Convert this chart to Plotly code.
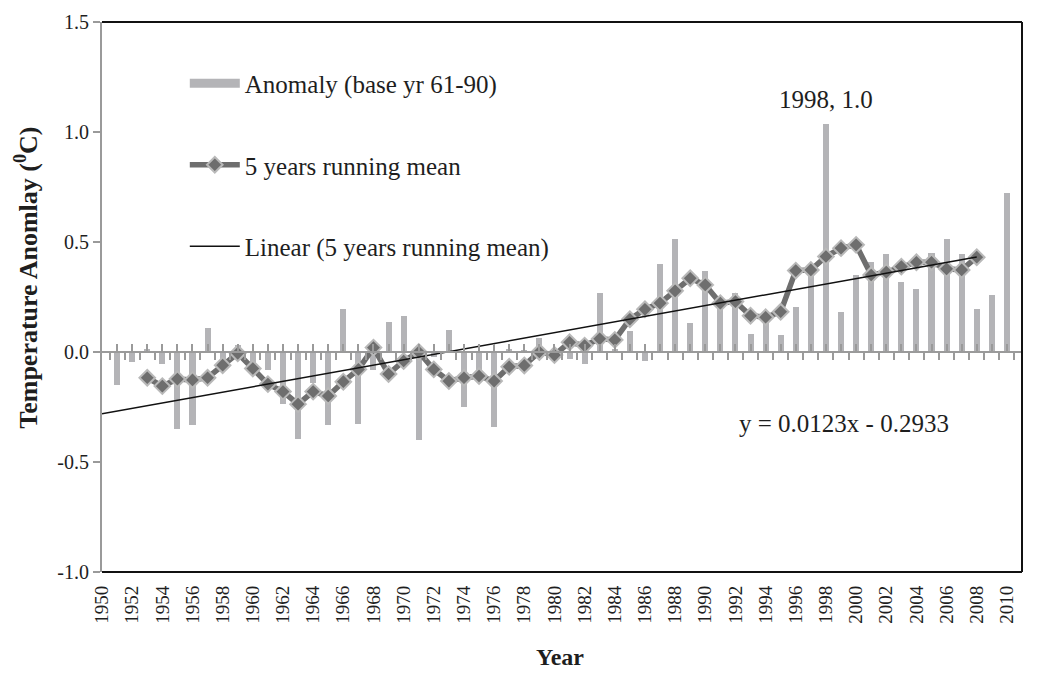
import plotly.graph_objects as go

# ---- data ----
years = list(range(1951, 2011))
anomaly = [
    -0.15, -0.047, 0.015, -0.056, -0.35, -0.33, 0.108, -0.04, 0.03, -0.05,   # 1951-1960
    -0.08, -0.237, -0.396, -0.14, -0.33, 0.194, -0.325, -0.08, 0.135, 0.164,  # 1961-1970
    -0.40, -0.024, 0.10, -0.25, -0.08, -0.34, 0.012, 0.005, 0.062, -0.04,     # 1971-1980
    -0.03, -0.055, 0.27, 0.015, 0.097, -0.04, 0.40, 0.513, 0.13, 0.37,        # 1981-1990
    0.25, 0.27, 0.08, 0.16, 0.077, 0.203, 0.38, 1.036, 0.182, 0.35,           # 1991-2000
    0.408, 0.446, 0.32, 0.285, 0.45, 0.514, 0.446, 0.197, 0.26, 0.725,        # 2001-2010
]

mean_years = list(range(1953, 2009))
running_mean = [
    -0.117, -0.155, -0.123, -0.127, -0.117, -0.06, -0.006, -0.075,            # 1953-1960
    -0.146, -0.18, -0.237, -0.18, -0.2, -0.135, -0.079, 0.02, -0.10, -0.041,  # 1961-1970
    0.0, -0.079, -0.132, -0.117, -0.109, -0.132, -0.067, -0.061, 0.0, -0.014, # 1971-1980
    0.044, 0.029, 0.06, 0.055, 0.149, 0.194, 0.222, 0.278, 0.335, 0.305,     # 1981-1990
    0.222, 0.229, 0.165, 0.158, 0.183, 0.37, 0.373, 0.434, 0.472, 0.487,     # 1991-2000
    0.35, 0.363, 0.388, 0.408, 0.408, 0.378, 0.373, 0.431,                   # 2001-2008
]

trend_years = [1950, 2008]
trend_values = [-0.281, 0.432]

xtick_years = list(range(1950, 2011, 2))
xtick_labels = [str(y) for y in xtick_years]
ytick_values = [-1.0, -0.5, 0.0, 0.5, 1.0, 1.5]
ytick_labels = ["-1.0", "-0.5", "0.0", "0.5", "1.0", "1.5"]

FONT = "Liberation Serif"
BAR_COLOR = "#b4b4b7"
MEAN_COLOR = "#6e6e6e"
AXIS_GRAY = "#9a9a9a"
TEXT = "#1e1e1e"

fig = go.Figure()

fig.add_trace(go.Bar(
    x=years, y=anomaly, width=0.4, marker=dict(color=BAR_COLOR, line=dict(width=0)),
    showlegend=False, name="Anomaly (base yr 61-90)",
))

# legend-only swatch for the bars
fig.add_trace(go.Scatter(
    x=[None], y=[None], mode="lines", line=dict(color=BAR_COLOR, width=9),
    name="Anomaly (base yr 61-90)", legendgroup="a",
))

fig.add_trace(go.Scatter(
    x=mean_years, y=running_mean, mode="lines+markers",
    line=dict(color=MEAN_COLOR, width=5.5),
    marker=dict(symbol="diamond", size=12, color=MEAN_COLOR,
                line=dict(color="#b9b9b9", width=2)),
    name="5 years running mean", legendgroup="b",
))

fig.add_trace(go.Scatter(
    x=trend_years, y=trend_values, mode="lines", xaxis="x2",
    line=dict(color="#111111", width=1.5),
    name="Linear (5 years running mean)", legendgroup="c",
))

# frame lines (top, right, bottom)
for x0, y0, x1, y1 in [(0, 1, 1, 1), (1, 0, 1, 1), (0, 0, 1, 0)]:
    fig.add_shape(type="line", xref="paper", yref="paper", x0=x0, y0=y0, x1=x1, y1=y1,
                  line=dict(color="#111111", width=2), layer="above")

fig.add_annotation(x=1998, y=1.147, xref="x", yref="y", text="1998, 1.0", showarrow=False,
                   font=dict(family=FONT, size=25, color=TEXT))
fig.add_annotation(x=1999.2, y=-0.323, xref="x", yref="y", text="y = 0.0123x - 0.2933",
                   showarrow=False, font=dict(family=FONT, size=25, color=TEXT))

# axis titles
fig.add_annotation(x=-0.0815, y=0.535, xref="paper", yref="paper", textangle=-90,
                   text="<b>Temperature Anomlay (<sup>0</sup>C)</b>", showarrow=False,
                   xanchor="center", yanchor="middle",
                   font=dict(family=FONT, size=26, color=TEXT))
fig.add_annotation(x=0.498, y=-0.1545, xref="paper", yref="paper", text="<b>Year</b>",
                   showarrow=False, xanchor="center", yanchor="middle",
                   font=dict(family=FONT, size=24, color=TEXT))

fig.update_layout(
    width=1044, height=668,
    margin=dict(l=94, r=30, t=14, b=104, autoexpand=False),
    paper_bgcolor="white", plot_bgcolor="white",
    font=dict(family=FONT, size=19, color=TEXT),
    bargap=0,
    xaxis=dict(
        range=[1950, 2011], tickmode="array", tickvals=xtick_years, ticktext=xtick_labels,
        tickangle=-90, ticks="", showgrid=False, zeroline=False, showline=False,
        ticklabelstandoff=9,
        tickfont=dict(family=FONT, size=19, color=TEXT), automargin=False,
    ),
    xaxis2=dict(
        range=[1950, 2011], overlaying="x", anchor="free", position=0.4,
        showline=True, linecolor=AXIS_GRAY, linewidth=2,
        tickmode="linear", tick0=1950, dtick=1, ticks="inside", ticklen=7,
        tickcolor=AXIS_GRAY, tickwidth=2, showticklabels=False, showgrid=False,
        zeroline=False, automargin=False,
        minor=dict(ticks="outside", tick0=1950.5, dtick=1, ticklen=7,
                   tickcolor=AXIS_GRAY, tickwidth=2, showgrid=False),
    ),
    yaxis=dict(
        range=[-1.0, 1.5], tickmode="array", tickvals=ytick_values, ticktext=ytick_labels,
        ticks="outside", ticklen=7, tickcolor=AXIS_GRAY, tickwidth=2,
        showline=True, linecolor=AXIS_GRAY, linewidth=2,
        showgrid=False, zeroline=False, automargin=False,
        tickfont=dict(family=FONT, size=20, color=TEXT),
    ),
    legend=dict(
        x=0.09, y=0.93, xanchor="left", yanchor="top",
        font=dict(family=FONT, size=25, color=TEXT),
        tracegroupgap=46, traceorder="grouped", bgcolor="rgba(0,0,0,0)",
        itemwidth=50,
    ),
)

fig.write_html("out.html")
